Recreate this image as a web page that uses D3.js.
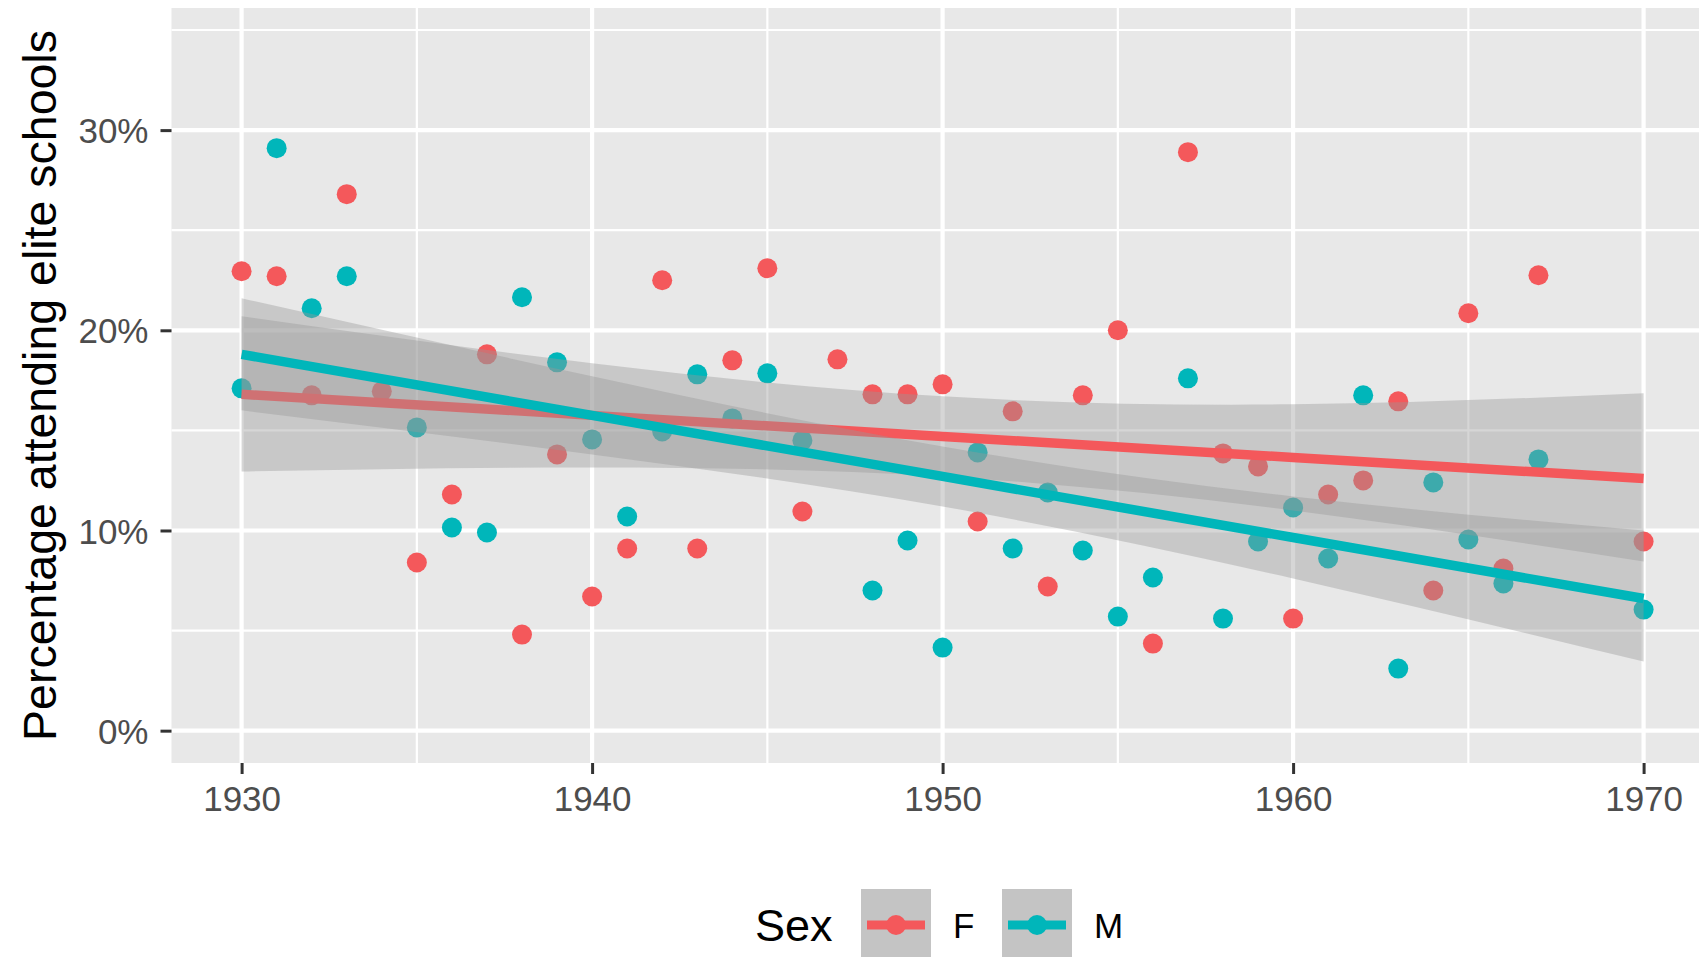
<!DOCTYPE html>
<html>
<head>
<meta charset="utf-8">
<script src="https://cdnjs.cloudflare.com/ajax/libs/d3/7.8.5/d3.min.js"></script>
<style>
  body { margin: 0; background: #fff; }
  svg { display: block; font-family: "Liberation Sans", Arial, sans-serif; }
</style>
</head>
<body>
<div id="chart"></div>
<script>
// points (percent)
var yearsF = [1930, 1931, 1932, 1933, 1934, 1935, 1936, 1937, 1938, 1939,
  1940, 1941, 1942, 1943, 1944, 1945, 1946, 1947, 1948, 1949,
  1950, 1951, 1952, 1953, 1954, 1955, 1956, 1957, 1958, 1959,
  1960, 1961, 1962, 1963, 1964, 1965, 1966, 1967, 1970];
var valuesF = [22.95, 22.7, 16.75, 26.8, 16.95, 8.4, 11.8, 18.8, 4.8, 13.8,
  6.7, 9.1, 22.5, 9.1, 18.5, 23.1, 10.95, 18.55, 16.8, 16.8,
  17.3, 10.45, 15.95, 7.2, 16.75, 20.0, 4.35, 28.9, 13.85, 13.2,
  5.6, 11.8, 12.5, 16.45, 7.0, 20.85, 8.1, 22.75, 9.45];

var yearsM = [1930, 1931, 1932, 1933, 1935, 1936, 1937, 1938, 1939,
  1940, 1941, 1942, 1943, 1944, 1945, 1946, 1948, 1949,
  1950, 1951, 1952, 1953, 1954, 1955, 1956, 1957, 1958, 1959,
  1960, 1961, 1962, 1963, 1964, 1965, 1966, 1967, 1970];
var valuesM = [17.1, 29.1, 21.1, 22.7, 15.15, 10.15, 9.9, 21.65, 18.4,
  14.55, 10.7, 14.95, 17.8, 15.6, 17.85, 14.5, 7.0, 9.5,
  4.15, 13.9, 9.1, 11.9, 9.0, 5.7, 7.65, 17.6, 5.6, 9.45,
  11.15, 8.6, 16.75, 3.1, 12.4, 9.55, 7.35, 13.55, 6.05];

// smoother: fitted line and band edges read at these years
var smoothYears = [1930, 1940, 1950, 1960, 1970];
var fitF = [16.8, 15.75, 14.7, 13.65, 12.6];
var lowF = [12.95, 13.15, 12.7, 11.0, 8.45];
var highF = [20.7, 18.35, 16.7, 16.3, 16.85];
var fitM = [18.8, 15.75, 12.7, 9.65, 6.6];
var lowM = [16.0, 13.8, 11.2, 7.6, 3.45];
var highM = [21.6, 17.7, 14.2, 11.7, 10.0];

var sexLabels = ["F", "M"];
var sexColors = ["#F4585B", "#00B6BA"];
var yTicks = [0, 10, 20, 30];
var yMinor = [5, 15, 25, 35];
var xTicks = [1930, 1940, 1950, 1960, 1970];
var xMinor = [1935, 1945, 1955, 1965];

var svgWidth = 1699;
var svgHeight = 957;
var margin = { top: 8, left: 171.5, bottom: 194 };
var width = 44 * 35.05;
var height = svgHeight - margin.top - margin.bottom;

var svg = d3.select("#chart")
  .append("svg")
  .attr("width", svgWidth)
  .attr("height", svgHeight);

var chartGroup = svg.append("g")
  .attr("transform", `translate(${margin.left}, ${margin.top})`);

var xScale = d3.scaleLinear().domain([1928, 1972]).range([0, width]);
var yScale = d3.scaleLinear().domain([-1.615, 36.1]).range([height, 0]);

// panel background + grid
chartGroup.append("rect")
  .attr("width", width)
  .attr("height", height)
  .attr("fill", "#E8E8E8");

chartGroup.selectAll(".hminor").data(yMinor).enter()
  .append("line")
  .attr("x1", 0).attr("x2", width)
  .attr("y1", d => yScale(d)).attr("y2", d => yScale(d))
  .attr("stroke", "#fff").attr("stroke-width", 2.2);
chartGroup.selectAll(".vminor").data(xMinor).enter()
  .append("line")
  .attr("y1", 0).attr("y2", height)
  .attr("x1", d => xScale(d)).attr("x2", d => xScale(d))
  .attr("stroke", "#fff").attr("stroke-width", 2.2);
chartGroup.selectAll(".hmajor").data(yTicks).enter()
  .append("line")
  .attr("x1", 0).attr("x2", width)
  .attr("y1", d => yScale(d)).attr("y2", d => yScale(d))
  .attr("stroke", "#fff").attr("stroke-width", 4.2);
chartGroup.selectAll(".vmajor").data(xTicks).enter()
  .append("line")
  .attr("y1", 0).attr("y2", height)
  .attr("x1", d => xScale(d)).attr("x2", d => xScale(d))
  .attr("stroke", "#fff").attr("stroke-width", 4.2);

// points first, smoother drawn on top like geom_smooth
var series = [
  { years: yearsF, values: valuesF, fit: fitF, low: lowF, high: highF, color: sexColors[0] },
  { years: yearsM, values: valuesM, fit: fitM, low: lowM, high: highM, color: sexColors[1] }
];

series.forEach(function(s) {
  var pts = s.years.map((y, i) => ({ year: y, value: s.values[i] }));
  chartGroup.append("g").selectAll("circle")
    .data(pts)
    .enter()
    .append("circle")
    .attr("cx", d => xScale(d.year))
    .attr("cy", d => yScale(d.value))
    .attr("r", 10)
    .attr("fill", s.color);
});

var area = d3.area()
  .x(d => xScale(d.year))
  .y0(d => yScale(d.low))
  .y1(d => yScale(d.high))
  .curve(d3.curveNatural);

var line = d3.line()
  .x(d => xScale(d.year))
  .y(d => yScale(d.fit));

series.forEach(function(s) {
  var band = smoothYears.map((y, i) => ({ year: y, fit: s.fit[i], low: s.low[i], high: s.high[i] }));
  chartGroup.append("path")
    .attr("d", area(band))
    .attr("fill", "#999999")
    .attr("opacity", 0.4);
  chartGroup.append("path")
    .attr("d", line(band))
    .attr("fill", "none")
    .attr("stroke", s.color)
    .attr("stroke-width", 9.5)
    .attr("stroke-linecap", "butt");
});

// axes
var leftAxis = d3.axisLeft(yScale)
  .tickValues(yTicks)
  .tickFormat(d => d + "%")
  .tickSize(11)
  .tickPadding(12);
var bottomAxis = d3.axisBottom(xScale)
  .tickValues(xTicks)
  .tickFormat(d3.format("d"))
  .tickSize(11)
  .tickPadding(12);

var yAxisG = chartGroup.append("g").call(leftAxis);
var xAxisG = chartGroup.append("g")
  .attr("transform", `translate(0, ${height})`)
  .call(bottomAxis);

[yAxisG, xAxisG].forEach(function(g) {
  g.select(".domain").remove();
  g.selectAll(".tick line").attr("stroke", "#333").attr("stroke-width", 3);
  g.selectAll(".tick text")
    .attr("fill", "#4D4D4D")
    .attr("font-size", "35px")
    .attr("font-family", "Liberation Sans, Arial, sans-serif");
});
yAxisG.selectAll(".tick text").attr("dy", "0.36em");

// y title
svg.append("text")
  .attr("transform", `translate(56, ${margin.top + height / 2}) rotate(-90)`)
  .attr("text-anchor", "middle")
  .attr("font-size", "46.5px")
  .attr("fill", "#000")
  .text("Percentage attending elite schools");

// legend
var legend = svg.append("g").attr("transform", "translate(0, 925)");
legend.append("text")
  .attr("x", 755)
  .attr("y", 16)
  .attr("font-size", "45px")
  .attr("fill", "#000")
  .text("Sex");

var keyX = [861, 1002];
sexLabels.forEach(function(lab, i) {
  var k = legend.append("g").attr("transform", `translate(${keyX[i]}, 0)`);
  k.append("rect")
    .attr("x", 0).attr("y", -36)
    .attr("width", 70).attr("height", 72)
    .attr("fill", "#C4C4C4");
  k.append("line")
    .attr("x1", 6).attr("x2", 64)
    .attr("y1", 0).attr("y2", 0)
    .attr("stroke", sexColors[i])
    .attr("stroke-width", 9);
  k.append("circle")
    .attr("cx", 35).attr("cy", 0).attr("r", 10)
    .attr("fill", sexColors[i]);
  k.append("text")
    .attr("x", 92)
    .attr("y", 13)
    .attr("font-size", "35px")
    .attr("fill", "#000")
    .text(lab);
});
</script>
</body>
</html>
